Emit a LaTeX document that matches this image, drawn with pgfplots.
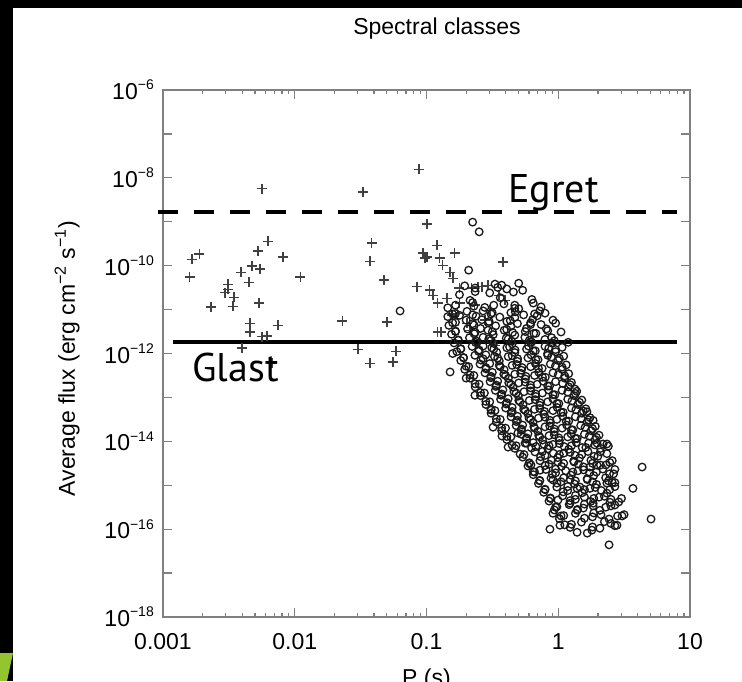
\documentclass[border=0pt]{standalone}
\usepackage{fontspec}
\setmainfont{Liberation Sans}
\newfontfamily\annot{PT Sans}
\usepackage{pgfplots}
\pgfplotsset{compat=1.18}
\newcommand{\ylab}[1]{10\raisebox{0.42em}{\fontsize{14}{14}\selectfont −#1}}
\begin{document}
\begin{tikzpicture}
\fill[black] (0,0) rectangle (742pt,681pt);
\fill[white] (13pt,0) rectangle (742pt,673pt);
\fill[yellow!60!green!90!black] (0,0) -- (7pt,0) -- (13pt,28pt) -- (0,28pt) -- cycle;
\begin{axis}[
  at={(163pt,64pt)}, anchor=south west,
  scale only axis, width=527pt, height=527pt,
  xmode=log, ymode=log,
  xmin=0.001, xmax=10, ymin=1e-18, ymax=1e-6,
  xtick={0.001,0.01,0.1,1,10},
  xticklabels={0.001,0.01,0.1,1,10},
  ytick={1e-18,1e-17,1e-16,1e-15,1e-14,1e-13,1e-12,1e-11,1e-10,1e-9,1e-8,1e-7,1e-6},
  yticklabels={\ylab{18},,\ylab{16},,\ylab{14},,\ylab{12},,\ylab{10},,\ylab{8},,\ylab{6}},
  yminorticks=false,
  tick align=inside,
  major tick length=9pt, minor tick length=4pt,
  axis line style={draw=black!50, line width=1.4pt},
  tick style={draw=black!50, line width=1.2pt},
  tick label style={font=\fontsize{23}{27}\selectfont, inner sep=0pt},
  xticklabel style={anchor=north, yshift=-16pt},
  yticklabel style={anchor=east, xshift=-9pt},
  title={Spectral classes},
  title style={font=\fontsize{23}{27}\selectfont, at={(axis description cs:0.52,1)}, anchor=base, yshift=50pt, inner sep=0pt},
  xlabel={P (s)},
  xlabel style={font=\fontsize{23}{27}\selectfont, at={(axis description cs:0.5,0)}, anchor=base, yshift=-68pt, inner sep=0pt},
  ylabel={Average flux (erg cm\textsuperscript{−2} s\textsuperscript{−1})},
  ylabel style={font=\fontsize{23}{27}\selectfont, at={(axis description cs:-0.167,0.49)}, anchor=base, inner sep=0pt},
  clip=false,
]
% thresholds
\addplot[black, line width=4.5pt, dash pattern=on 20.5pt off 15.5pt] coordinates {(0.000916,1.66e-9) (7.96,1.66e-9)};
\addplot[black, line width=4.3pt] coordinates {(0.00119,1.82e-12) (7.96,1.82e-12)};
% plus class
\addplot[only marks, mark=+, mark size=5pt, mark options={draw=black!75, line width=1.2pt}] table {
0.00166 1.41e-10
0.00188 1.84e-10
0.0016 5.5e-11
0.00564 5.6e-9
0.00627 3.6e-10
0.00526 2.15e-10
0.00815 1.57e-10
0.00473 9.8e-11
0.00544 8.4e-11
0.00391 7.1e-11
0.0045 4.2e-11
0.011 5.5e-11
0.00311 3.8e-11
0.00296 2.4e-11
0.00346 1.9e-11
0.0034 1.2e-11
0.00231 1.14e-11
0.00536 1.41e-11
0.00457 4.9e-12
0.00746 4.4e-12
0.00457 3.1e-12
0.00564 2.4e-12
0.00615 2.5e-12
0.00398 1.33e-12
0.00671 6.0e-13
0.033 4.75e-9
0.0877 1.58e-8
0.101 8.9e-10
0.0385 3.3e-10
0.0372 1.27e-10
0.0475 4.7e-11
0.0229 5.5e-12
0.0501 5.2e-12
0.0302 1.26e-12
0.0372 6.0e-13
0.0586 1.13e-12
0.0557 6.4e-13
0.094 1.94e-10
0.101 1.57e-10
0.120 2.9e-10
0.0847 3.3e-11
0.106 2.8e-11
0.122 1.41e-11
0.122 3.1e-12
0.0975 1.49e-10
0.126 1.49e-10
0.164 1.94e-10
0.133 1.03e-10
0.381 1.21e-10
0.151 7.1e-11
0.159 5.2e-11
0.112 2.1e-11
0.143 1.8e-11
0.177 3.1e-11
0.221 3.1e-11
0.246 3.3e-11
0.293 3.6e-11
0.355 2.1e-11
0.156 7.5e-12
0.179 1.41e-11
0.129 3.1e-12
0.173 8.3e-12
0.203 4.9e-12
0.264 3.3e-11
0.00311 2.9e-11
0.233 1.27e-11
0.303 9.7e-12
0.214 3.4e-12
0.278 5.8e-12
0.394 1.64e-11
0.331 1.55e-12
};
% circle class
\addplot[only marks, mark=o, mark size=3.8pt, mark options={draw=black!90, line width=1.3pt}] table {
0.224 9.8e-10
0.251 5.9e-10
0.209 7.9e-11
0.234 3.1e-11
0.347 3.2e-11
0.372 3.6e-11
0.537 2.75e-11
0.468 1.26e-11
0.794 8.3e-12
0.063 9.3e-12
1.19 1.8e-12
0.178 7.4e-12
0.151 3.8e-13
0.158 1.0e-12
0.83 1.0e-12
0.200 2.75e-13
0.233 1.12e-13
0.309 5.4e-14
0.320 2.1e-14
0.416 7.4e-15
0.374 1.32e-14
0.494 1.55e-14
0.560 9.1e-15
0.621 2.9e-15
0.726 2.2e-15
0.912 1.32e-15
0.995 4.6e-16
0.912 2.3e-16
0.865 1.0e-16
1.03 1.23e-16
1.39 8.5e-17
1.80 9.5e-17
2.07 1.05e-16
2.43 4.4e-17
2.79 1.23e-16
3.05 2.0e-16
2.47 4.1e-16
2.34 1.12e-15
2.30 2.9e-15
1.97 9.1e-15
2.34 8.7e-15
1.84 3.0e-14
1.65 4.7e-14
1.34 1.55e-13
4.33 2.6e-15
3.69 8.5e-16
5.06 1.7e-16
1.84 3.9e-16
1.39 2.7e-16
1.23 3.9e-16
1.74 2.6e-15
1.46 9.1e-16
0.166 1.26e-11
0.224 1.45e-11
0.277 1.12e-11
0.387 1.35e-11
0.467 1.07e-11
0.646 1.41e-11
0.158 7.94e-12
0.203 9.12e-12
0.238 7.08e-12
0.315 8.51e-12
0.360 6.76e-12
0.472 8.91e-12
0.546 7.59e-12
0.724 9.33e-12
0.158 5.01e-12
0.200 5.75e-12
0.229 4.47e-12
0.299 5.37e-12
0.335 4.27e-12
0.432 5.62e-12
0.490 4.79e-12
0.638 5.89e-12
0.741 4.57e-12
0.166 3.16e-12
0.205 3.63e-12
0.230 2.82e-12
0.293 3.39e-12
0.321 2.69e-12
0.406 3.55e-12
0.450 3.02e-12
0.574 3.72e-12
0.652 2.88e-12
0.832 3.31e-12
0.174 2.00e-12
0.212 2.29e-12
0.236 1.78e-12
0.297 2.14e-12
0.323 1.70e-12
0.403 2.24e-12
0.443 1.91e-12
0.558 2.34e-12
0.628 1.82e-12
0.793 2.09e-12
0.891 1.74e-12
0.182 1.26e-12
0.222 1.45e-12
0.248 1.12e-12
0.313 1.35e-12
0.341 1.07e-12
0.427 1.41e-12
0.470 1.20e-12
0.594 1.48e-12
0.670 1.15e-12
0.847 1.32e-12
0.955 1.10e-12
0.191 7.94e-13
0.233 9.12e-13
0.259 7.08e-13
0.328 8.51e-13
0.357 6.76e-13
0.447 8.91e-13
0.492 7.59e-13
0.622 9.33e-13
0.702 7.24e-13
0.887 8.32e-13
1.00 6.92e-13
0.209 5.01e-13
0.255 5.75e-13
0.283 4.47e-13
0.357 5.37e-13
0.388 4.27e-13
0.484 5.62e-13
0.532 4.79e-13
0.671 5.89e-13
0.755 4.57e-13
0.953 5.25e-13
1.07 4.37e-13
0.229 3.16e-13
0.278 3.63e-13
0.308 2.82e-13
0.386 3.39e-13
0.418 2.69e-13
0.519 3.55e-13
0.568 3.02e-13
0.713 3.72e-13
0.798 2.88e-13
1.00 3.31e-13
1.12 2.75e-13
0.251 2.00e-13
0.304 2.29e-13
0.336 1.78e-13
0.421 2.14e-13
0.454 1.70e-13
0.562 2.24e-13
0.614 1.91e-13
0.769 2.34e-13
0.859 1.82e-13
1.08 2.09e-13
1.20 1.74e-13
0.275 1.26e-13
0.333 1.45e-13
0.368 1.12e-13
0.461 1.35e-13
0.498 1.07e-13
0.617 1.41e-13
0.673 1.20e-13
0.843 1.48e-13
0.942 1.15e-13
1.18 1.32e-13
1.32 1.10e-13
0.302 7.94e-14
0.365 9.12e-14
0.402 7.08e-14
0.502 8.51e-14
0.541 6.76e-14
0.668 8.91e-14
0.728 7.59e-14
0.910 9.33e-14
1.01 7.24e-14
1.27 8.32e-14
1.41 6.92e-14
0.331 5.01e-14
0.399 5.75e-14
0.439 4.47e-14
0.547 5.37e-14
0.588 4.27e-14
0.724 5.62e-14
0.787 4.79e-14
0.982 5.89e-14
1.09 4.57e-14
1.36 5.25e-14
1.51 4.37e-14
0.363 3.16e-14
0.438 3.63e-14
0.481 2.82e-14
0.600 3.39e-14
0.644 2.69e-14
0.794 3.55e-14
0.863 3.02e-14
1.08 3.72e-14
1.20 2.88e-14
1.49 3.31e-14
1.66 2.75e-14
0.398 2.00e-14
0.479 2.29e-14
0.525 1.78e-14
0.653 2.14e-14
0.700 1.70e-14
0.861 2.24e-14
0.933 1.91e-14
1.16 2.34e-14
1.29 1.82e-14
1.60 2.09e-14
1.78 1.74e-14
0.437 1.26e-14
0.524 1.45e-14
0.573 1.12e-14
0.711 1.35e-14
0.760 1.07e-14
0.933 1.41e-14
1.01 1.20e-14
1.25 1.48e-14
1.39 1.15e-14
1.72 1.32e-14
1.91 1.10e-14
0.479 7.94e-15
0.574 9.12e-15
0.628 7.08e-15
0.780 8.51e-15
0.834 6.76e-15
1.02 8.91e-15
1.11 7.59e-15
1.37 9.33e-15
1.52 7.24e-15
1.89 8.32e-15
2.09 6.92e-15
0.550 5.01e-15
0.665 5.75e-15
0.735 4.47e-15
0.918 5.37e-15
0.991 4.27e-15
1.23 5.62e-15
1.34 4.79e-15
1.68 5.89e-15
1.87 4.57e-15
2.34 5.25e-15
0.603 3.16e-15
0.726 3.63e-15
0.796 2.82e-15
0.993 3.39e-15
1.06 2.69e-15
1.31 3.55e-15
1.42 3.02e-15
1.77 3.72e-15
1.97 2.88e-15
2.46 3.31e-15
0.661 2.00e-15
0.807 2.29e-15
0.902 1.78e-15
1.14 2.14e-15
1.25 1.70e-15
1.56 2.24e-15
1.72 1.91e-15
2.18 2.34e-15
2.45 1.82e-15
0.724 1.26e-15
0.881 1.45e-15
0.977 1.12e-15
1.23 1.35e-15
1.33 1.07e-15
1.66 1.41e-15
1.82 1.20e-15
2.29 1.48e-15
2.57 1.15e-15
0.794 7.94e-16
0.975 9.12e-16
1.09 7.08e-16
1.39 8.51e-16
1.52 6.76e-16
1.91 8.91e-16
2.12 7.59e-16
2.69 9.33e-16
0.871 5.01e-16
1.08 5.75e-16
1.23 4.47e-16
1.58 5.37e-16
1.76 4.27e-16
2.24 5.62e-16
2.51 4.79e-16
0.955 3.16e-16
1.21 3.63e-16
1.40 2.82e-16
1.84 3.39e-16
2.07 2.69e-16
2.69 3.55e-16
1.05 2.00e-16
1.35 2.29e-16
1.58 1.78e-16
2.11 2.14e-16
2.43 1.70e-16
1.12 1.26e-16
1.50 1.45e-16
1.82 1.12e-16
2.51 1.35e-16
0.195 3.47e-11
0.234 2.57e-11
0.331 3.80e-11
0.407 2.95e-11
0.501 3.98e-11
0.178 2.19e-11
0.214 1.62e-11
0.302 2.40e-11
0.363 1.86e-11
0.457 2.51e-11
0.631 1.70e-11
0.145 1.10e-11
0.166 8.13e-12
0.229 1.20e-11
0.269 9.33e-12
0.324 1.26e-11
0.437 8.51e-12
0.501 1.05e-11
0.661 7.94e-12
0.741 1.15e-11
0.145 6.92e-12
0.166 5.13e-12
0.224 7.59e-12
0.263 5.89e-12
0.309 7.94e-12
0.407 5.37e-12
0.468 6.61e-12
0.617 5.01e-12
0.692 7.24e-12
0.912 5.75e-12
0.148 4.37e-12
0.166 3.24e-12
0.224 4.79e-12
0.257 3.72e-12
0.295 5.01e-12
0.389 3.39e-12
0.437 4.17e-12
0.562 3.16e-12
0.617 4.57e-12
0.813 3.63e-12
0.955 4.90e-12
0.155 2.75e-12
0.174 2.04e-12
0.234 3.02e-12
0.269 2.34e-12
0.316 3.16e-12
0.417 2.14e-12
0.468 2.63e-12
0.603 2.00e-12
0.676 2.88e-12
0.891 2.29e-12
1.05 3.09e-12
0.162 1.74e-12
0.182 1.29e-12
0.240 1.91e-12
0.269 1.48e-12
0.309 2.00e-12
0.407 1.35e-12
0.447 1.66e-12
0.575 1.26e-12
0.617 1.82e-12
0.794 1.45e-12
0.933 1.95e-12
1.07 1.38e-12
0.170 1.10e-12
0.191 8.13e-13
0.251 1.20e-12
0.282 9.33e-13
0.324 1.26e-12
0.417 8.51e-13
0.468 1.05e-12
0.589 7.94e-13
0.646 1.15e-12
0.832 9.12e-13
0.955 1.23e-12
1.10 8.71e-13
0.182 6.92e-13
0.200 5.13e-13
0.269 7.59e-13
0.302 5.89e-13
0.347 7.94e-13
0.447 5.37e-13
0.490 6.61e-13
0.617 5.01e-13
0.676 7.24e-13
0.871 5.75e-13
1.02 7.76e-13
1.15 5.50e-13
0.195 4.37e-13
0.214 3.24e-13
0.282 4.79e-13
0.316 3.72e-13
0.363 5.01e-13
0.468 3.39e-13
0.525 4.17e-13
0.661 3.16e-13
0.708 4.57e-13
0.912 3.63e-13
1.07 4.90e-13
1.20 3.47e-13
0.214 2.75e-13
0.234 2.04e-13
0.309 3.02e-13
0.347 2.34e-13
0.398 3.16e-13
0.501 2.14e-13
0.562 2.63e-13
0.692 2.00e-13
0.759 2.88e-13
0.955 2.29e-13
1.12 3.09e-13
1.26 2.19e-13
0.234 1.74e-13
0.257 1.29e-13
0.339 1.91e-13
0.380 1.48e-13
0.437 2.00e-13
0.550 1.35e-13
0.617 1.66e-13
0.759 1.26e-13
0.832 1.82e-13
1.07 1.45e-13
1.23 1.95e-13
1.38 1.38e-13
0.257 1.10e-13
0.282 8.13e-14
0.372 1.20e-13
0.417 9.33e-14
0.479 1.26e-13
0.603 8.51e-14
0.676 1.05e-13
0.832 7.94e-14
0.912 1.15e-13
1.18 9.12e-14
1.35 1.23e-13
1.51 8.71e-14
0.282 6.92e-14
0.309 5.13e-14
0.407 7.59e-14
0.447 5.89e-14
0.513 7.94e-14
0.661 5.37e-14
0.724 6.61e-14
0.912 5.01e-14
0.977 7.24e-14
1.26 5.75e-14
1.45 7.76e-14
1.62 5.50e-14
0.309 4.37e-14
0.339 3.24e-14
0.447 4.79e-14
0.490 3.72e-14
0.562 5.01e-14
0.708 3.39e-14
0.776 4.17e-14
0.977 3.16e-14
1.05 4.57e-14
1.35 3.63e-14
1.55 4.90e-14
1.74 3.47e-14
0.339 2.75e-14
0.372 2.04e-14
0.490 3.02e-14
0.537 2.34e-14
0.617 3.16e-14
0.794 2.14e-14
0.871 2.63e-14
1.07 2.00e-14
1.15 2.88e-14
1.48 2.29e-14
1.70 3.09e-14
1.91 2.19e-14
0.372 1.74e-14
0.407 1.29e-14
0.525 1.91e-14
0.589 1.48e-14
0.661 2.00e-14
0.851 1.35e-14
0.933 1.66e-14
1.18 1.26e-14
1.26 1.82e-14
1.58 1.45e-14
1.82 1.95e-14
2.04 1.38e-14
0.407 1.10e-14
0.447 8.13e-15
0.575 1.20e-14
0.646 9.33e-15
0.724 1.26e-14
0.912 8.51e-15
1.02 1.05e-14
1.26 7.94e-15
1.35 1.15e-14
1.70 9.12e-15
1.95 1.23e-14
2.19 8.71e-15
0.468 6.92e-15
0.513 5.13e-15
0.676 7.59e-15
0.759 5.89e-15
0.851 7.94e-15
1.10 5.37e-15
1.20 6.61e-15
1.51 5.01e-15
1.62 7.24e-15
2.09 5.75e-15
2.40 7.76e-15
0.537 4.37e-15
0.603 3.24e-15
0.794 4.79e-15
0.891 3.72e-15
1.02 5.01e-15
1.32 3.39e-15
1.45 4.17e-15
1.82 3.16e-15
2.00 4.57e-15
2.57 3.63e-15
0.589 2.75e-15
0.646 2.04e-15
0.851 3.02e-15
0.955 2.34e-15
1.10 3.16e-15
1.41 2.14e-15
1.55 2.63e-15
1.95 2.00e-15
2.09 2.88e-15
2.69 2.29e-15
0.646 1.74e-15
0.724 1.29e-15
0.955 1.91e-15
1.10 1.48e-15
1.29 2.00e-15
1.66 1.35e-15
1.86 1.66e-15
2.40 1.26e-15
2.63 1.82e-15
0.708 1.10e-15
0.794 8.13e-16
1.05 1.20e-15
1.18 9.33e-16
1.35 1.26e-15
1.74 8.51e-16
1.95 1.05e-15
2.46 7.94e-16
2.69 1.15e-15
0.776 6.92e-16
0.871 5.13e-16
1.18 7.59e-16
1.35 5.89e-16
1.58 7.94e-16
2.04 5.37e-16
2.34 6.61e-16
3.02 5.01e-16
0.851 4.37e-16
0.977 3.24e-16
1.35 4.79e-16
1.58 3.72e-16
1.86 5.01e-16
2.51 3.39e-16
2.88 4.17e-16
0.933 2.75e-16
1.10 2.04e-16
1.55 3.02e-16
1.86 2.34e-16
2.29 3.16e-16
3.16 2.14e-16
1.02 1.74e-16
1.26 1.29e-16
1.82 1.91e-16
2.24 1.48e-16
2.82 2.00e-16
1.23 1.10e-16
1.66 8.13e-17
2.69 1.20e-16
};
\end{axis}
\node[anchor=base west, inner sep=0pt, font=\annot\fontsize{40}{44}\selectfont] at (508pt,478pt) {Egret};
\node[anchor=base west, inner sep=0pt, font=\annot\fontsize{40}{44}\selectfont] at (192pt,299pt) {Glast};
\pgfresetboundingbox
\path[use as bounding box] (0,0) rectangle (742pt,681pt);
\end{tikzpicture}
\end{document}
